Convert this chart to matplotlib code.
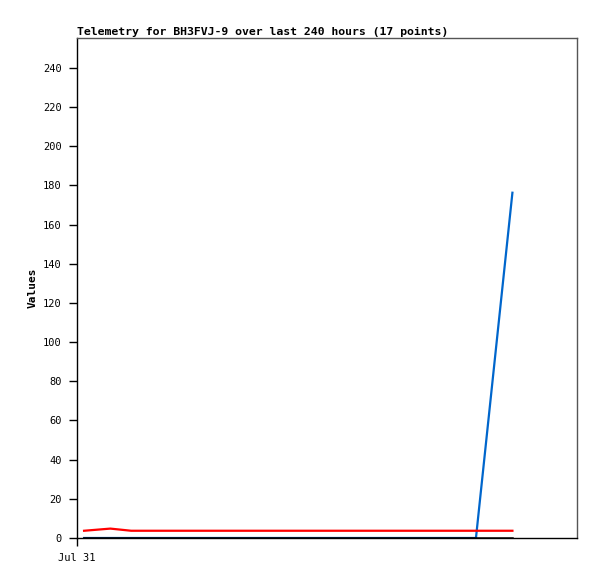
import matplotlib
matplotlib.use("Agg")
import matplotlib.pyplot as plt

hours = [3.4, 16.0, 26.0, 39.0, 52.0, 65.0, 78.0, 91.0, 104.0, 117.0,
         130.0, 143.0, 156.0, 167.0, 178.0, 191.5, 209.0]
blue_vals = [0, 0, 0, 0, 0, 0, 0, 0, 0, 0, 0, 0, 0, 0, 0, 0, 176.3]
black_vals = [0] * 17
red_vals = [3.7, 4.8, 3.7, 3.7, 3.7, 3.7, 3.7, 3.7, 3.7, 3.7, 3.7, 3.7, 3.7, 3.7, 3.7, 3.7, 3.7]
yticks = [0, 20, 40, 60, 80, 100, 120, 140, 160, 180, 200, 220, 240]
xtick_labels = ["Jul 31"]

fig = plt.figure(figsize=(5.97, 5.79), dpi=100)
ax = fig.add_axes([77/597, 1-538/579, 500/597, 500/579])

ax.plot(hours, blue_vals, color="#0066cc", lw=1.6, zorder=2)
ax.plot(hours, black_vals, color="black", lw=1.8, zorder=3)
ax.plot(hours, red_vals, color="#ff0000", lw=1.6, zorder=4)

ax.set_xlim(0, 240)
ax.set_ylim(0, 255.3)
ax.set_yticks(yticks)
ax.set_xticks([0])
ax.set_xticklabels(xtick_labels)

mono = "DejaVu Sans Mono"
for lab in ax.get_yticklabels() + ax.get_xticklabels():
    lab.set_family(mono)
    lab.set_fontsize(7.5)
ax.tick_params(axis="both", direction="out", length=6, width=1, pad=5, color="black")

ax.spines["left"].set_color("black")
ax.spines["bottom"].set_color("black")
ax.spines["top"].set_color("#555555")
ax.spines["right"].set_color("#555555")
for s in ax.spines.values():
    s.set_linewidth(1)

ax.set_ylabel("Values", family=mono, fontweight="bold", fontsize=8, labelpad=4)
ax.set_title("Telemetry for BH3FVJ-9 over last 240 hours (17 points)",
             family=mono, fontweight="bold", fontsize=8.25, loc="left", pad=2)

fig.savefig("out.png", dpi=100)
